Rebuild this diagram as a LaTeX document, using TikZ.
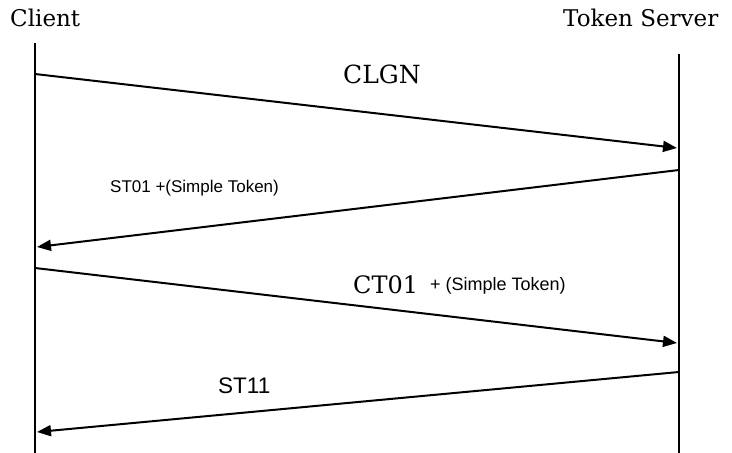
\documentclass[tikz,border=0pt]{standalone}
\usepackage{fontspec}
\usetikzlibrary{arrows.meta}
\newfontfamily\actorfont{DejaVu Serif}
\newfontfamily\msgfont{Liberation Sans}
\begin{document}
\begin{tikzpicture}[x=1pt,y=-1pt,
  lifeline/.style={line width=2.4pt,black},
  message/.style={line width=2pt,black,-{Triangle[length=14pt,width=11pt]}},
  actorlabel/.style={inner sep=0pt,anchor=base west,font=\actorfont\fontsize{23}{27}\selectfont},
  seriflabel/.style={inner sep=0pt,anchor=base west,font=\actorfont\fontsize{#1}{#1}\selectfont},
  sanslabel/.style={inner sep=0pt,anchor=base west,font=\msgfont\fontsize{#1}{#1}\selectfont}]
  \useasboundingbox (0,0) rectangle (732,453);

  % participants
  \node[actorlabel] (client) at (10,26) {Client};
  \node[actorlabel] (server) at (563,26) {Token Server};

  % lifelines
  \coordinate (ctop) at (35,43);
  \coordinate (cbot) at (35,453);
  \coordinate (stop) at (679,54);
  \coordinate (sbot) at (679,453);
  \draw[lifeline] (ctop) -- (cbot);
  \draw[lifeline] (stop) -- (sbot);

  % message end points on the lifelines
  \coordinate (m1a) at (35,74);
  \coordinate (m1b) at (677,148);
  \coordinate (m2a) at (679,170);
  \coordinate (m2b) at (37,247);
  \coordinate (m3a) at (35,268);
  \coordinate (m3b) at (677,343);
  \coordinate (m4a) at (679,372);
  \coordinate (m4b) at (37,432);

  % messages
  \draw[message] (m1a) -- (m1b);
  \draw[message] (m2a) -- (m2b);
  \draw[message] (m3a) -- (m3b);
  \draw[message] (m4a) -- (m4b);

  % message labels
  \node[seriflabel=25] (l1) at (343,83) {CLGN};
  \node[sanslabel=17] (l2) at (110,192) {ST01 +(Simple Token)};
  \node[seriflabel=24] (l3) at (353,293) {CT01};
  \node[sanslabel=18] (l3b) at (430,290) {+ (Simple Token)};
  \node[sanslabel=22.5] (l4) at (218,393) {ST11};
\end{tikzpicture}
\end{document}
